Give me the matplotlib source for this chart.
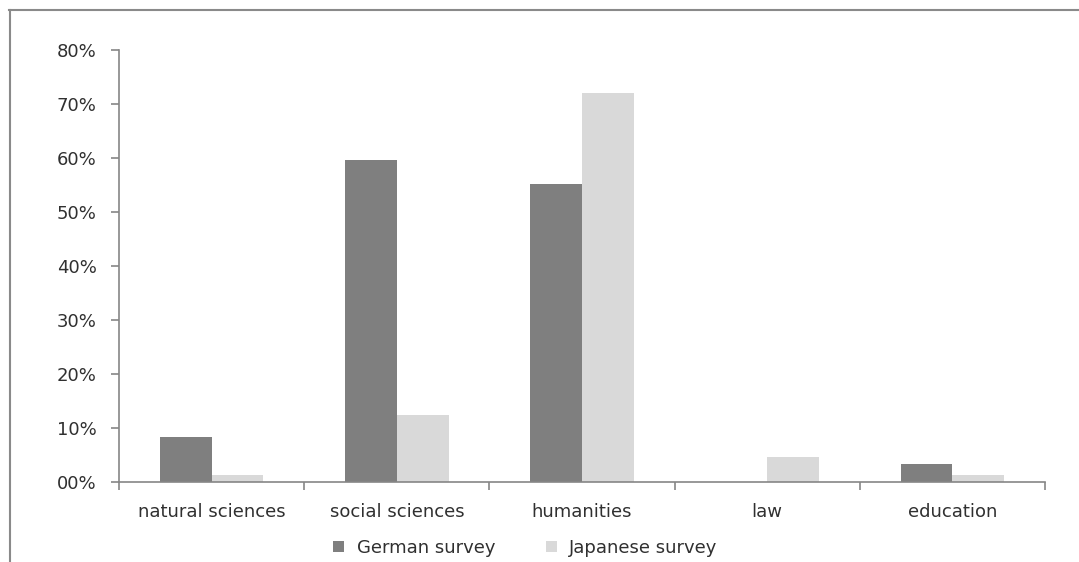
import matplotlib.pyplot as plt
from matplotlib.lines import Line2D
import numpy as np

plt.rcParams['font.family'] = ['DejaVu Sans']

# share of respondents by field
fields = ['natural sciences', 'social sciences', 'humanities', 'law', 'education']
german = [8.3, 59.6, 55.2, 0.0, 3.3]
japanese = [1.3, 12.4, 72.0, 4.6, 1.3]
yticks = [0, 10, 20, 30, 40, 50, 60, 70, 80]
ylabels = ['00%', '10%', '20%', '30%', '40%', '50%', '60%', '70%', '80%']

dark = '#7f7f7f'
light = '#d9d9d9'
axcol = '#868686'
txt = '#303030'

fig = plt.figure(figsize=(10.79, 5.62), dpi=100)
ax = fig.add_axes([0.1103, 0.1423, 0.9685 - 0.1103, 0.911 - 0.1423])

x = np.arange(len(fields))
w = 0.28
ax.bar(x - w / 2, german, w, color=dark, label='German survey')
ax.bar(x + w / 2, japanese, w, color=light, label='Japanese survey')

ax.set_xlim(-0.5, len(fields) - 0.5)
ax.set_ylim(0, 80)
ax.set_yticks(yticks)
ax.set_yticklabels(ylabels, fontsize=13, color=txt)

# boundary ticks between groups, labels centred on groups
ax.set_xticks(np.arange(len(fields) + 1) - 0.5)
ax.set_xticklabels([])
ax.set_xticks(x, minor=True)
ax.set_xticklabels(fields, minor=True, fontsize=13, color=txt)
ax.tick_params(axis='x', which='major', length=6, color=axcol, width=1.2)
ax.tick_params(axis='x', which='minor', length=0, pad=15)
ax.tick_params(axis='y', length=6, color=axcol, width=1.2, pad=10)

for s in ['top', 'right']:
    ax.spines[s].set_visible(False)
for s in ['left', 'bottom']:
    ax.spines[s].set_color(axcol)
    ax.spines[s].set_linewidth(1.2)

ax.legend(loc='center', bbox_to_anchor=(0.487, 0.025), bbox_transform=fig.transFigure,
          ncol=2, frameon=False, fontsize=13, handlelength=0.6, handleheight=0.6,
          handletextpad=0.7, columnspacing=2.8, labelcolor=txt)

# outer frame of the chart area
fig.add_artist(Line2D([9.5 / 1079, 9.5 / 1079], [0, 1 - 10 / 562], color='#8a8a8a', lw=1.5))
fig.add_artist(Line2D([9 / 1079, 1], [1 - 10 / 562, 1 - 10 / 562], color='#8a8a8a', lw=1.5))

fig.savefig('out.png', dpi=100)
